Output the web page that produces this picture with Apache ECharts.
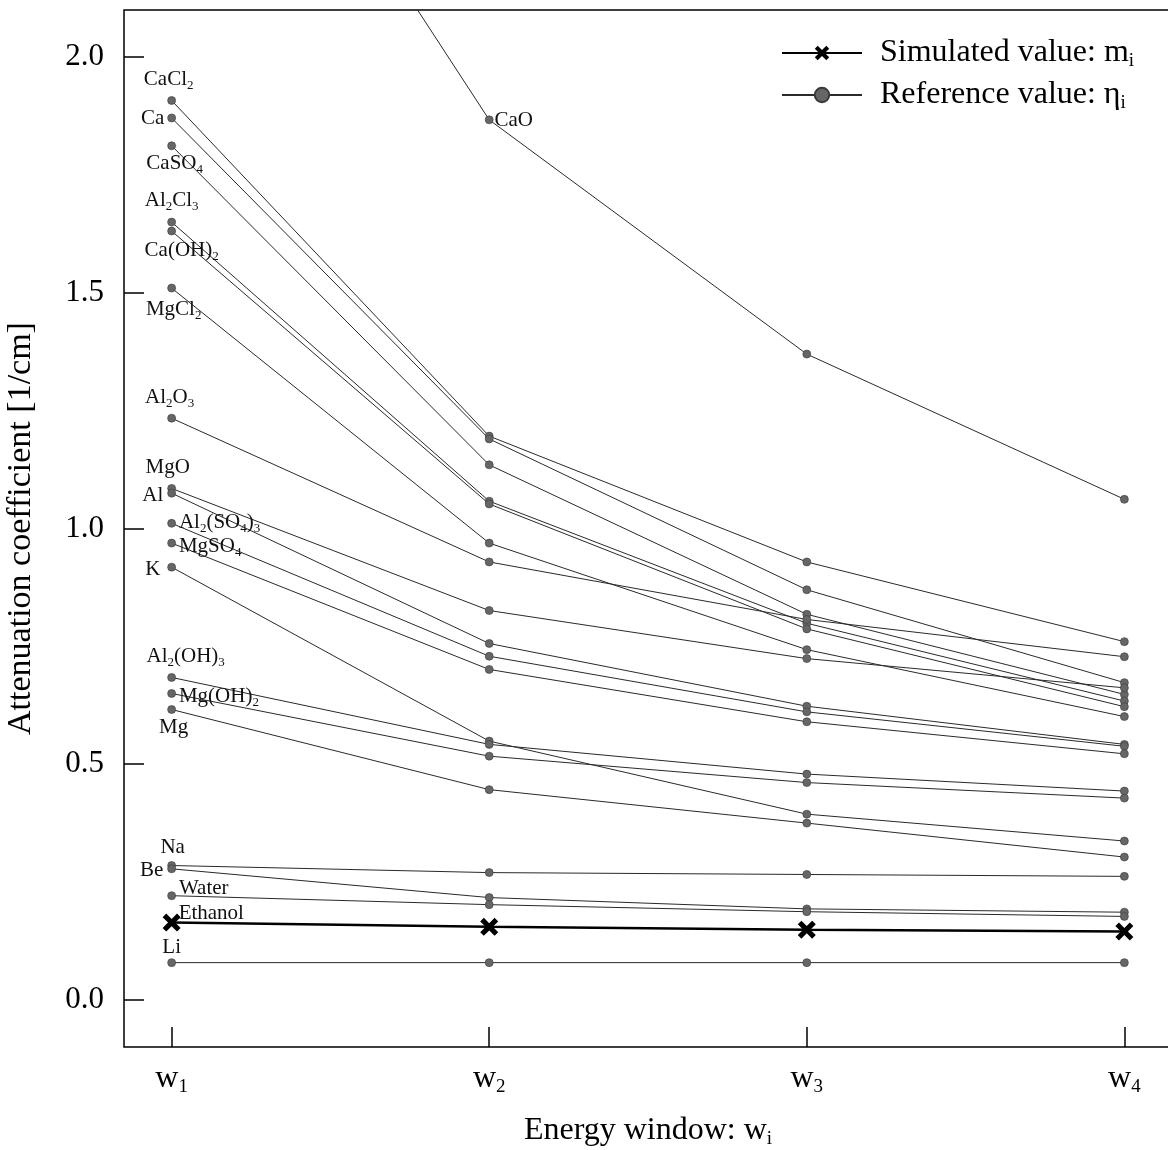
<!DOCTYPE html>
<html>
<head>
<meta charset="utf-8">
<script src="https://cdn.jsdelivr.net/npm/echarts@6/dist/echarts.min.js"></script>
<style>html,body{margin:0;padding:0;background:#fff}#c{width:1168px;height:1150px}</style>
</head>
<body>
<div id="c"></div>
<script>
// ---- data ----
const windows = [1, 2, 3, 4];
const windowLabels = ['w{s|1}', 'w{s|2}', 'w{s|3}', 'w{s|4}'];
const yTicks = [0, 0.5, 1, 1.5, 2];

// simulated value (Ethanol)
const Ethanol = [0.164, 0.155, 0.149, 0.145];

// reference values
const CaO     = [2.90, 1.867, 1.370, 1.062];
const CaCl2   = [1.908, 1.196, 0.929, 0.760];
const Ca      = [1.871, 1.190, 0.870, 0.673];
const CaSO4   = [1.812, 1.135, 0.818, 0.648];
const Al2Cl3  = [1.650, 1.058, 0.799, 0.634];
const CaOH2   = [1.631, 1.052, 0.787, 0.622];
const MgCl2   = [1.510, 0.969, 0.743, 0.601];
const Al2O3   = [1.234, 0.929, 0.807, 0.728];
const MgO     = [1.085, 0.826, 0.724, 0.662];
const Al      = [1.075, 0.756, 0.623, 0.542];
const Al2SO43 = [1.011, 0.729, 0.611, 0.538];
const MgSO4   = [0.969, 0.701, 0.590, 0.522];
const K       = [0.918, 0.549, 0.394, 0.337];
const Al2OH3  = [0.684, 0.542, 0.479, 0.443];
const MgOH2   = [0.650, 0.517, 0.461, 0.428];
const Mg      = [0.616, 0.446, 0.375, 0.303];
const Na      = [0.285, 0.270, 0.266, 0.262];
const Be      = [0.278, 0.217, 0.193, 0.186];
const Water   = [0.221, 0.202, 0.187, 0.177];
const Li      = [0.079, 0.079, 0.079, 0.079];

const refNames = ['CaO', 'CaCl{s|2}', 'Ca', 'CaSO{s|4}', 'Al{s|2}Cl{s|3}', 'Ca(OH){s|2}', 'MgCl{s|2}',
  'Al{s|2}O{s|3}', 'MgO', 'Al', 'Al{s|2}(SO{s|4}){s|3}', 'MgSO{s|4}', 'K', 'Al{s|2}(OH){s|3}',
  'Mg(OH){s|2}', 'Mg', 'Na', 'Be', 'Water', 'Li'];
const refValues = [CaO, CaCl2, Ca, CaSO4, Al2Cl3, CaOH2, MgCl2, Al2O3, MgO, Al, Al2SO43, MgSO4, K,
  Al2OH3, MgOH2, Mg, Na, Be, Water, Li];
const simName = 'Ethanol';

// ---- label placement (styling only) ----
const place = [
  {idx: 1, pos: 'right', off: [-3, 1]},   // CaO
  {idx: 0, pos: 'top', off: [-3, 0]},     // CaCl2
  {idx: 0, pos: 'left', off: [1, 1]},     // Ca
  {idx: 0, pos: 'bottom', off: [3, -3]},  // CaSO4
  {idx: 0, pos: 'top', off: [0, -1]},     // Al2Cl3
  {idx: 0, pos: 'bottom', off: [10, -1]}, // Ca(OH)2
  {idx: 0, pos: 'bottom', off: [2, 1]},   // MgCl2
  {idx: 0, pos: 'top', off: [-2, 0]},     // Al2O3
  {idx: 0, pos: 'top', off: [-4, -2]},    // MgO
  {idx: 0, pos: 'left', off: [0, 2]},     // Al
  {idx: 0, pos: 'right', off: [-1, -1]},  // Al2(SO4)3
  {idx: 0, pos: 'right', off: [-1, 3]},   // MgSO4
  {idx: 0, pos: 'left', off: [-3, 2]},    // K
  {idx: 0, pos: 'top', off: [14, 0]},     // Al2(OH)3
  {idx: 0, pos: 'right', off: [-1, 3]},   // Mg(OH)2
  {idx: 0, pos: 'bottom', off: [2, -1]},  // Mg
  {idx: 0, pos: 'top', off: [1, 1]},      // Na
  {idx: 0, pos: 'left', off: [0, 2]},     // Be
  {idx: 0, pos: 'right', off: [-1, -7]},  // Water
  {idx: 0, pos: 'top', off: [0, 4]}       // Li
];

const FONT = 'Liberation Serif';
const subRich = {s: {fontSize: 13, fontFamily: FONT, color: '#111', padding: [12, 0, 0, 0]}};
const labelBase = {show: true, fontFamily: FONT, fontSize: 21, color: '#111', distance: 4, rich: subRich};
const bigSub = {s: {fontFamily: FONT, fontSize: 19, color: '#000', padding: [17, 0, 0, 0]}};

const REF = 'Reference value: \u03b7_i';
const SIM = 'Simulated value: m_i';

const series = refValues.map((arr, k) => ({
  type: 'line',
  name: REF,
  id: 'ref' + k,
  symbol: 'circle',
  symbolSize: 8,
  itemStyle: {color: '#666', borderColor: '#3a3a3a', borderWidth: 0.6},
  lineStyle: {color: '#2a2a2a', width: 1},
  emphasis: {disabled: true},
  z: 2,
  data: windows.map((w, i) => {
    const d = {value: [w, arr[i]]};
    if (i === place[k].idx) {
      d.label = Object.assign({}, labelBase, {position: place[k].pos, offset: place[k].off, formatter: refNames[k]});
    }
    return d;
  })
}));

series.push({
  type: 'line',
  name: SIM,
  id: 'sim',
  symbol: 'path://M2,0 L5,3 L8,0 L10,2 L7,5 L10,8 L8,10 L5,7 L2,10 L0,8 L3,5 L0,2 Z',
  symbolSize: 18,
  itemStyle: {color: '#000'},
  lineStyle: {color: '#000', width: 2.5},
  emphasis: {disabled: true},
  z: 5,
  data: windows.map((w, i) => {
    const d = {value: [w, Ethanol[i]]};
    if (i === 0) d.label = Object.assign({}, labelBase, {position: 'right', offset: [-6, -9], formatter: simName});
    return d;
  })
});

const chart = echarts.init(document.getElementById('c'), null, {renderer: 'canvas'});
chart.setOption({
  animation: false,
  backgroundColor: '#fff',
  grid: {left: 124, top: 10, width: 1048, height: 1037, show: true, borderColor: '#000', borderWidth: 1.5,
    backgroundColor: 'transparent', containLabel: false, outerBoundsMode: 'none'},
  legend: {
    orient: 'vertical', left: 776, top: 32, itemWidth: 80, itemHeight: 18, itemGap: 8,
    data: [SIM, REF],
    formatter: n => n === SIM ? 'Simulated value: m{s|i}' : 'Reference value: \u03b7{s|i}',
    textStyle: {fontFamily: FONT, fontSize: 32, color: '#000', padding: [0, 0, 0, 13], rich: bigSub}
  },
  xAxis: {
    type: 'value', min: 0.85, max: 4.15,
    axisLine: {show: false, onZero: false}, splitLine: {show: false},
    axisTick: {show: true, inside: true, length: 20, lineStyle: {color: '#000', width: 1.5}, customValues: windows},
    axisLabel: {customValues: windows, margin: 14, fontFamily: FONT, fontSize: 32, color: '#000',
      formatter: v => windowLabels[windows.indexOf(v)], rich: bigSub},
    name: 'Energy window: w{s|i}', nameLocation: 'middle', nameGap: 66,
    nameTextStyle: {fontFamily: FONT, fontSize: 32, color: '#000', rich: bigSub}
  },
  yAxis: {
    type: 'value', min: -0.1, max: 2.1,
    axisLine: {show: false, onZero: false}, splitLine: {show: false},
    axisTick: {show: true, inside: true, length: 20, lineStyle: {color: '#000', width: 1.5}, customValues: yTicks},
    axisLabel: {customValues: yTicks, margin: 20, fontFamily: FONT, fontSize: 31, color: '#000', formatter: v => v.toFixed(1)},
    name: 'Attenuation coefficient [1/cm]', nameLocation: 'middle', nameGap: 86,
    nameTextStyle: {fontFamily: FONT, fontSize: 34, color: '#000'}
  },
  series: series
});
</script>
</body>
</html>
